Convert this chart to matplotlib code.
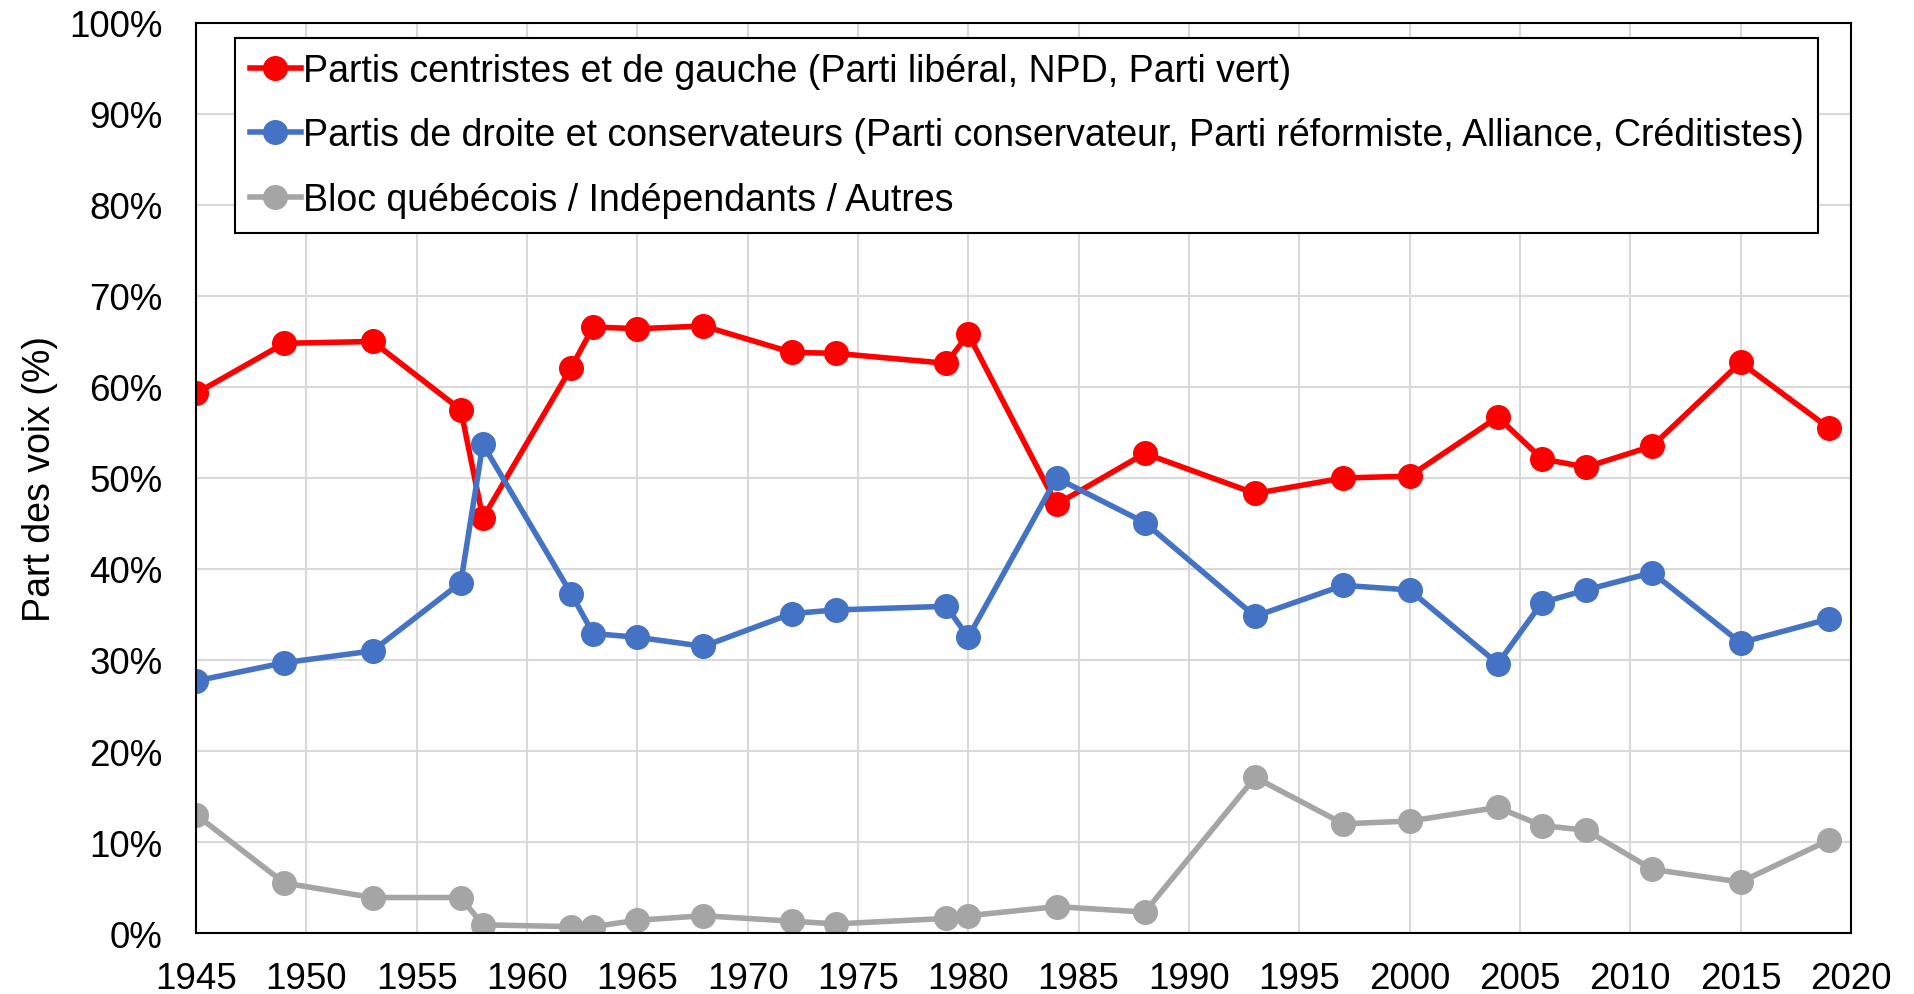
import matplotlib
matplotlib.use("Agg")
import matplotlib.pyplot as plt
from matplotlib.ticker import FuncFormatter, MultipleLocator

plt.rcParams['font.family'] = ['Liberation Sans', 'DejaVu Sans']

# election years
years = [1945, 1949, 1953, 1957, 1958, 1962, 1963, 1965, 1968, 1972, 1974, 1979, 1980,
         1984, 1988, 1993, 1997, 2000, 2004, 2006, 2008, 2011, 2015, 2019]

# vote share (%)
gauche = [59.3, 64.8, 65.0, 57.5, 45.6, 62.1, 66.6, 66.4, 66.7, 63.8, 63.7, 62.6, 65.8,
          47.1, 52.7, 48.3, 50.0, 50.2, 56.7, 52.1, 51.2, 53.5, 62.7, 55.5]
droite = [27.7, 29.7, 31.0, 38.5, 53.7, 37.3, 32.9, 32.5, 31.5, 35.1, 35.5, 35.9, 32.5,
          50.0, 45.1, 34.8, 38.2, 37.7, 29.6, 36.3, 37.7, 39.6, 31.9, 34.5]
autres = [13.0, 5.5, 3.9, 3.9, 0.9, 0.7, 0.7, 1.4, 1.9, 1.3, 1.0, 1.6, 1.9,
          2.9, 2.3, 17.1, 12.0, 12.3, 13.8, 11.8, 11.3, 7.0, 5.6, 10.2]

labels = ["Partis centristes et de gauche (Parti libéral, NPD, Parti vert)",
          "Partis de droite et conservateurs (Parti conservateur, Parti réformiste, Alliance, Créditistes)",
          "Bloc québécois / Indépendants / Autres"]
colors = ["#FF0000", "#4472C4", "#A5A5A5"]

fig = plt.figure(figsize=(19.14, 9.95), dpi=100)
ax = fig.add_axes([0.1024, 0.0613, 0.8646, 0.9146])

for vals, lab, col in zip([gauche, droite, autres], labels, colors):
    ax.plot(years, vals, color=col, lw=4, marker="o", markersize=17, label=lab)

ax.set_xlim(1945, 2020)
ax.set_ylim(0, 100)
ax.xaxis.set_major_locator(MultipleLocator(5))
ax.yaxis.set_major_locator(MultipleLocator(10))
ax.yaxis.set_major_formatter(FuncFormatter(lambda v, p: f"{int(v)}%"))
ax.grid(True, color="#D9D9D9", lw=1.5)
ax.set_axisbelow(True)
ax.tick_params(axis="both", length=0, labelsize=26.5)
ax.tick_params(axis="x", pad=20)
ax.tick_params(axis="y", pad=24)
for s in ax.spines.values():
    s.set_color("black"); s.set_linewidth(1.5)
ax.set_ylabel("Part des voix (%)", fontsize=27, labelpad=8)

leg = ax.legend(loc="upper left", bbox_to_anchor=(0.0236, 0.9835), fontsize=27,
                handlelength=1.35, handletextpad=0.05, borderpad=0.4,
                labelspacing=0.76, fancybox=False, framealpha=1, borderaxespad=0)
leg.get_frame().set_edgecolor("black")
leg.get_frame().set_linewidth(1.5)

fig.savefig("out.png", dpi=100)
